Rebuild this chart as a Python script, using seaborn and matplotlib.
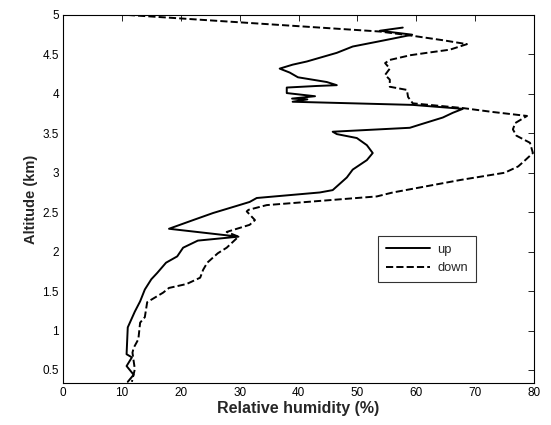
import matplotlib
matplotlib.use("Agg")
import matplotlib.pyplot as plt
import seaborn as sns
import pandas as pd

# relative humidity (%) and altitude (km), read from the profile
up_rh = [57.7, 53.8, 59.3, 56.0, 53.3, 49.2, 46.5, 41.4, 39.0, 36.8, 38.5, 39.9,
         44.8, 46.5, 43.1, 38.0, 38.0, 42.8, 38.9, 41.5, 39.0, 59.4, 67.9, 66.2,
         64.5, 60.6, 58.9, 45.8, 46.5, 49.9, 51.6, 52.6, 51.6, 49.2, 48.2, 45.8,
         43.6, 32.9, 31.7, 29.5, 25.5, 22.1, 18.0, 29.8, 22.9, 20.4, 19.4, 17.5,
         16.0, 15.0, 13.9, 13.1, 12.2, 11.0, 10.8, 11.7, 10.8, 12.0, 11.0]
up_alt = [4.84, 4.80, 4.75, 4.70, 4.66, 4.60, 4.52, 4.41, 4.37, 4.32, 4.27, 4.21,
          4.15, 4.11, 4.10, 4.08, 4.01, 3.97, 3.94, 3.93, 3.90, 3.86, 3.81, 3.76,
          3.70, 3.61, 3.57, 3.52, 3.49, 3.44, 3.35, 3.25, 3.16, 3.04, 2.94, 2.78,
          2.75, 2.68, 2.63, 2.58, 2.49, 2.40, 2.29, 2.19, 2.14, 2.05, 1.94, 1.86,
          1.73, 1.65, 1.52, 1.37, 1.24, 1.04, 0.70, 0.66, 0.55, 0.44, 0.35]

down_rh = [11.0, 53.8, 59.0, 64.5, 68.6, 65.7, 61.8, 59.0, 55.5, 54.7, 55.5, 54.7,
           55.5, 55.5, 58.4, 58.6, 59.4, 67.9, 73.0, 78.8, 76.8, 76.4, 77.0, 79.3,
           79.8, 78.5, 77.3, 75.0, 67.6, 56.0, 53.3, 34.6, 31.5, 31.2, 32.6, 31.7,
           27.8, 29.8, 27.8, 26.3, 24.5, 23.8, 23.3, 21.0, 18.0, 17.0, 14.3, 13.9,
           13.1, 12.8, 12.0, 11.8, 12.2, 11.7]
down_alt = [5.00, 4.79, 4.74, 4.68, 4.63, 4.56, 4.52, 4.49, 4.43, 4.39, 4.32, 4.24,
            4.18, 4.09, 4.05, 3.96, 3.88, 3.82, 3.77, 3.72, 3.63, 3.55, 3.47, 3.38,
            3.25, 3.16, 3.08, 3.00, 2.91, 2.75, 2.70, 2.59, 2.53, 2.51, 2.40, 2.34,
            2.25, 2.19, 2.05, 1.98, 1.86, 1.77, 1.67, 1.59, 1.54, 1.48, 1.36, 1.17,
            1.10, 0.89, 0.78, 0.72, 0.51, 0.35]

x_ticks = [0, 10, 20, 30, 40, 50, 60, 70, 80]
y_ticks = [0.5, 1, 1.5, 2, 2.5, 3, 3.5, 4, 4.5, 5]

sns.set_style("white")
plt.rcParams["font.family"] = ["Liberation Sans", "DejaVu Sans"]

df_up = pd.DataFrame({"rh": up_rh, "alt": up_alt})
df_down = pd.DataFrame({"rh": down_rh, "alt": down_alt})

fig = plt.figure(figsize=(5.51, 4.25), dpi=100)
ax = fig.add_axes([0.1143, 0.0988, 0.855, 0.866])

sns.lineplot(data=df_up, x="rh", y="alt", sort=False, estimator=None,
             color="black", linewidth=1.4, label="up", ax=ax)
sns.lineplot(data=df_down, x="rh", y="alt", sort=False, estimator=None,
             color="black", linewidth=1.4, linestyle="--", label="down", ax=ax)

ax.set_xlim(0, 80)
ax.set_ylim(0.335, 5)
ax.set_xticks(x_ticks)
ax.set_xticklabels([str(v) for v in x_ticks])
ax.set_yticks(y_ticks)
ax.set_yticklabels([("%g" % v) for v in y_ticks])
ax.tick_params(direction="in", top=True, right=True, length=4, width=0.6,
               labelsize=8.5, colors="black", pad=3)
for s in ax.spines.values():
    s.set_color("black")
    s.set_linewidth(0.8)

ax.set_xlabel("Relative humidity (%)", fontsize=11.5, fontweight="bold", labelpad=1)
ax.set_ylabel("Altitude (km)", fontsize=10.5, fontweight="bold", labelpad=3)

leg = ax.legend(loc="upper left", bbox_to_anchor=(0.669, 0.40), fontsize=9.3,
                frameon=True, fancybox=False, edgecolor="black",
                handlelength=3.4, handletextpad=0.6, borderpad=0.6,
                labelspacing=0.5, borderaxespad=0)
leg.get_frame().set_linewidth(0.8)

plt.savefig("out.png", dpi=100)
